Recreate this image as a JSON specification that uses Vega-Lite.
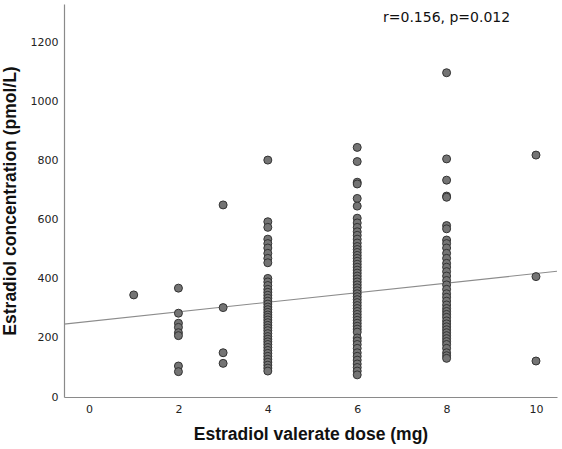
{
  "$schema": "https://vega.github.io/schema/vega-lite/v6.json",
  "width": 493,
  "height": 393,
  "autosize": "none",
  "padding": {"left": 64, "top": 4, "right": 5, "bottom": 52},
  "background": "white",
  "config": {
    "view": {"stroke": null},
    "font": "Liberation Sans",
    "axis": {"grid": false, "ticks": false, "domainColor": "#8a8a8a", "domainWidth": 1.2, "labelColor": "#222", "labelFontSize": 11, "titleFontSize": 17.5, "titleFontWeight": "bold", "titleColor": "#111", "labelFont": "DejaVu Sans"}
  },
  "datasets": {
    "points": [
      {"dose": 1, "conc": 346},
      {"dose": 2, "conc": 369}, {"dose": 2, "conc": 284}, {"dose": 2, "conc": 250}, {"dose": 2, "conc": 236}, {"dose": 2, "conc": 218}, {"dose": 2, "conc": 208}, {"dose": 2, "conc": 105}, {"dose": 2, "conc": 86},
      {"dose": 3, "conc": 651}, {"dose": 3, "conc": 303}, {"dose": 3, "conc": 150}, {"dose": 3, "conc": 114},
      {"dose": 4, "conc": 803}, {"dose": 4, "conc": 594}, {"dose": 4, "conc": 575}, {"dose": 4, "conc": 535}, {"dose": 4, "conc": 520}, {"dose": 4, "conc": 505}, {"dose": 4, "conc": 487}, {"dose": 4, "conc": 470}, {"dose": 4, "conc": 455}, {"dose": 4, "conc": 402}, {"dose": 4, "conc": 390}, {"dose": 4, "conc": 378}, {"dose": 4, "conc": 365}, {"dose": 4, "conc": 355}, {"dose": 4, "conc": 345}, {"dose": 4, "conc": 335}, {"dose": 4, "conc": 325}, {"dose": 4, "conc": 315}, {"dose": 4, "conc": 305}, {"dose": 4, "conc": 296}, {"dose": 4, "conc": 287}, {"dose": 4, "conc": 278}, {"dose": 4, "conc": 270}, {"dose": 4, "conc": 261}, {"dose": 4, "conc": 252}, {"dose": 4, "conc": 243}, {"dose": 4, "conc": 234}, {"dose": 4, "conc": 225}, {"dose": 4, "conc": 215}, {"dose": 4, "conc": 205}, {"dose": 4, "conc": 196}, {"dose": 4, "conc": 187}, {"dose": 4, "conc": 178}, {"dose": 4, "conc": 168}, {"dose": 4, "conc": 158}, {"dose": 4, "conc": 148}, {"dose": 4, "conc": 138}, {"dose": 4, "conc": 128}, {"dose": 4, "conc": 118}, {"dose": 4, "conc": 108}, {"dose": 4, "conc": 98}, {"dose": 4, "conc": 88},
      {"dose": 6, "conc": 846}, {"dose": 6, "conc": 798}, {"dose": 6, "conc": 728}, {"dose": 6, "conc": 722}, {"dose": 6, "conc": 673}, {"dose": 6, "conc": 647}, {"dose": 6, "conc": 606}, {"dose": 6, "conc": 590}, {"dose": 6, "conc": 575}, {"dose": 6, "conc": 560}, {"dose": 6, "conc": 548}, {"dose": 6, "conc": 535}, {"dose": 6, "conc": 522}, {"dose": 6, "conc": 510}, {"dose": 6, "conc": 500}, {"dose": 6, "conc": 490}, {"dose": 6, "conc": 480}, {"dose": 6, "conc": 470}, {"dose": 6, "conc": 460}, {"dose": 6, "conc": 450}, {"dose": 6, "conc": 440}, {"dose": 6, "conc": 430}, {"dose": 6, "conc": 420}, {"dose": 6, "conc": 410}, {"dose": 6, "conc": 400}, {"dose": 6, "conc": 390}, {"dose": 6, "conc": 380}, {"dose": 6, "conc": 370}, {"dose": 6, "conc": 360}, {"dose": 6, "conc": 350}, {"dose": 6, "conc": 340}, {"dose": 6, "conc": 330}, {"dose": 6, "conc": 320}, {"dose": 6, "conc": 310}, {"dose": 6, "conc": 300}, {"dose": 6, "conc": 290}, {"dose": 6, "conc": 280}, {"dose": 6, "conc": 270}, {"dose": 6, "conc": 260}, {"dose": 6, "conc": 250}, {"dose": 6, "conc": 240}, {"dose": 6, "conc": 230}, {"dose": 6, "conc": 220}, {"dose": 6, "conc": 200}, {"dose": 6, "conc": 190}, {"dose": 6, "conc": 178}, {"dose": 6, "conc": 165}, {"dose": 6, "conc": 150}, {"dose": 6, "conc": 138}, {"dose": 6, "conc": 125}, {"dose": 6, "conc": 112}, {"dose": 6, "conc": 100}, {"dose": 6, "conc": 88}, {"dose": 6, "conc": 75},
      {"dose": 8, "conc": 1099}, {"dose": 8, "conc": 807}, {"dose": 8, "conc": 735}, {"dose": 8, "conc": 681}, {"dose": 8, "conc": 677}, {"dose": 8, "conc": 581}, {"dose": 8, "conc": 570}, {"dose": 8, "conc": 532}, {"dose": 8, "conc": 520}, {"dose": 8, "conc": 505}, {"dose": 8, "conc": 487}, {"dose": 8, "conc": 470}, {"dose": 8, "conc": 453}, {"dose": 8, "conc": 440}, {"dose": 8, "conc": 425}, {"dose": 8, "conc": 410}, {"dose": 8, "conc": 395}, {"dose": 8, "conc": 380}, {"dose": 8, "conc": 365}, {"dose": 8, "conc": 350}, {"dose": 8, "conc": 338}, {"dose": 8, "conc": 325}, {"dose": 8, "conc": 312}, {"dose": 8, "conc": 300}, {"dose": 8, "conc": 290}, {"dose": 8, "conc": 280}, {"dose": 8, "conc": 270}, {"dose": 8, "conc": 258}, {"dose": 8, "conc": 248}, {"dose": 8, "conc": 238}, {"dose": 8, "conc": 228}, {"dose": 8, "conc": 218}, {"dose": 8, "conc": 208}, {"dose": 8, "conc": 198}, {"dose": 8, "conc": 188}, {"dose": 8, "conc": 178}, {"dose": 8, "conc": 165}, {"dose": 8, "conc": 150}, {"dose": 8, "conc": 140}, {"dose": 8, "conc": 131},
      {"dose": 10, "conc": 820}, {"dose": 10, "conc": 408}, {"dose": 10, "conc": 122}
    ],
    "fit": [
      {"dose": -0.56, "conc": 247},
      {"dose": 10.47, "conc": 426}
    ],
    "note": [
      {"dose": 8.0, "conc": 1285, "label": "r=0.156, p=0.012"}
    ]
  },
  "encoding": {
    "x": {"field": "dose", "type": "quantitative", "scale": {"domain": [-0.56, 10.47], "nice": false, "zero": false},
      "axis": {"values": [0, 2, 4, 6, 8, 10], "format": "d", "title": "Estradiol valerate dose (mg)", "labelPadding": 6, "titlePadding": 11}},
    "y": {"field": "conc", "type": "quantitative", "scale": {"domain": [0, 1332], "nice": false},
      "axis": {"values": [0, 200, 400, 600, 800, 1000, 1200], "format": "d", "title": "Estradiol concentration (pmol/L)", "labelPadding": 6, "titlePadding": 11}}
  },
  "layer": [
    {"data": {"name": "fit"}, "mark": {"type": "line", "color": "#8c8c8c", "strokeWidth": 1.1, "clip": true}, "encoding": {}},
    {"data": {"name": "points"}, "mark": {"type": "point", "filled": true, "shape": "circle", "size": 64, "fill": "#747474", "fillOpacity": 1, "stroke": "#333", "strokeWidth": 1, "opacity": 1}, "encoding": {}},
    {"data": {"name": "note"}, "mark": {"type": "text", "fontSize": 14, "color": "#111", "align": "center", "baseline": "middle", "font": "DejaVu Sans"}, "encoding": {"text": {"field": "label"}}}
  ]
}
